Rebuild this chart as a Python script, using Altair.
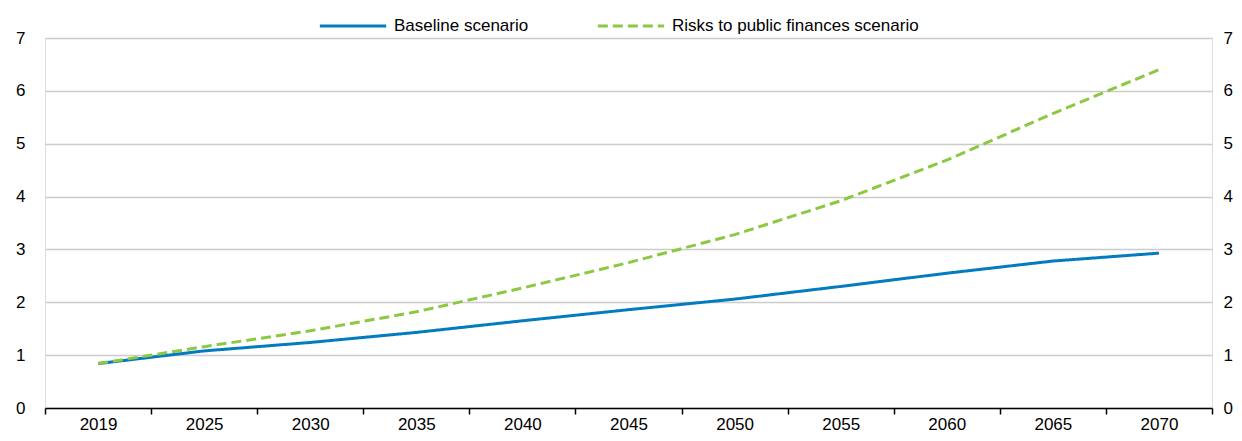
import altair as alt
import pandas as pd

years = ["2019", "2025", "2030", "2035", "2040", "2045", "2050", "2055", "2060", "2065", "2070"]
baseline = [0.84, 1.08, 1.24, 1.43, 1.65, 1.86, 2.06, 2.30, 2.55, 2.78, 2.93]
risks = [0.84, 1.16, 1.46, 1.82, 2.27, 2.75, 3.28, 3.92, 4.69, 5.57, 6.40]
series_names = ["Baseline scenario", "Risks to public finances scenario"]
y_ticks = [0, 1, 2, 3, 4, 5, 6, 7]

rows = []
for name, vals in zip(series_names, [baseline, risks]):
    for yr, v in zip(years, vals):
        rows.append({"year": yr, "value": v, "series": name})
df = pd.DataFrame(rows)

FONT = "Liberation Sans"
FS = 17
BLUE = "#037bc1"
GREEN = "#8cc841"

x_enc = alt.X(
    "year:O",
    sort=years,
    bandPosition=0.5,
    scale=alt.Scale(type="band", paddingInner=0, paddingOuter=0),
    axis=alt.Axis(
        title=None,
        labelAngle=0,
        tickBand="extent",
        grid=False,
        domainColor="#000000",
        domainWidth=1.5,
        tickColor="#000000",
        tickWidth=1.5,
        tickSize=6,
        labelPadding=2,
        labelFont=FONT,
        labelFontSize=FS,
        labelColor="#000000",
    ),
)

y_scale = alt.Scale(domain=[0, 7], nice=False, zero=True)

legend_props = dict(
    title=None,
    orient="none",
    legendX=273,
    legendY=-47,
    direction="horizontal",
    symbolType="stroke",
    symbolSize=4400,
    symbolStrokeWidth=3,
    labelFont=FONT,
    labelFontSize=FS,
    labelColor="#000000",
    labelLimit=0,
    columnPadding=62,
    labelOffset=6,
)

lines = alt.Chart(df).mark_line(strokeWidth=3).encode(
    x=x_enc,
    y=alt.Y(
        "value:Q",
        scale=y_scale,
        axis=alt.Axis(
            title=None,
            values=y_ticks,
            grid=True,
            gridColor="#cccccc",
            gridWidth=1.5,
            domain=False,
            ticks=False,
            labelPadding=20,
            labelFont=FONT,
            labelFontSize=FS,
            labelColor="#000000",
        ),
    ),
    color=alt.Color(
        "series:N",
        sort=series_names,
        scale=alt.Scale(domain=series_names, range=[BLUE, GREEN]),
        legend=alt.Legend(**legend_props),
    ),
    strokeDash=alt.StrokeDash(
        "series:N",
        sort=series_names,
        scale=alt.Scale(domain=series_names, range=[[1, 0], [10, 5]]),
        legend=alt.Legend(**legend_props),
    ),
)

right_axis = alt.Chart(df).mark_line(opacity=0).encode(
    x=x_enc,
    y=alt.Y(
        "value:Q",
        scale=y_scale,
        axis=alt.Axis(
            title=None,
            orient="right",
            values=y_ticks,
            grid=False,
            domain=False,
            ticks=False,
            labelPadding=11,
            labelFont=FONT,
            labelFontSize=FS,
            labelColor="#000000",
        ),
    ),
    detail="series:N",
)

chart = (
    alt.layer(lines, right_axis)
    .resolve_scale(y="independent")
    .properties(
        width=1167,
        height=370,
        autosize=alt.AutoSizeParams(type="none"),
        padding={"left": 37, "top": 30, "right": 22, "bottom": 25},
    )
    .configure_view(stroke=None)
    .configure(font=FONT)
)

chart.save("out.html", embed_options={"renderer": "svg", "actions": False})
